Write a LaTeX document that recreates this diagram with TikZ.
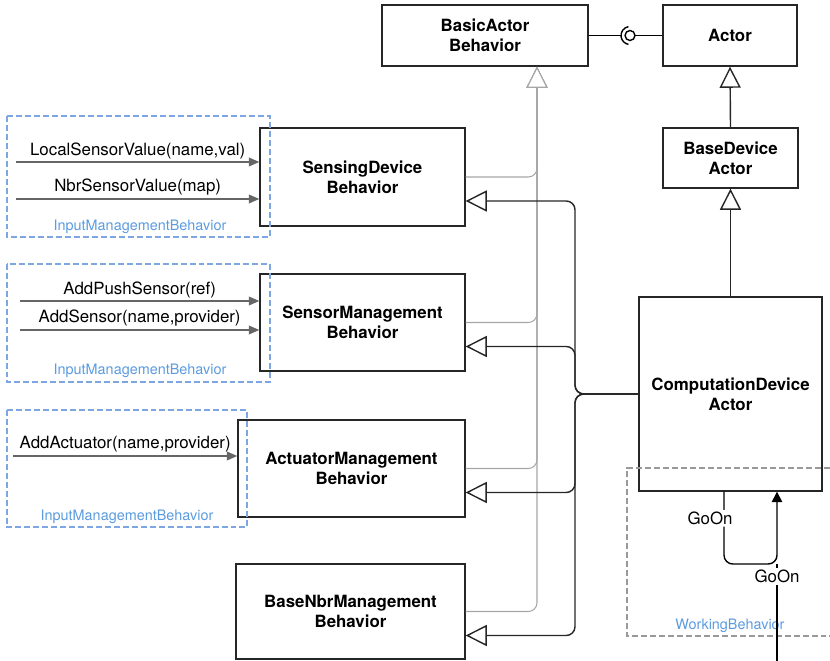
\documentclass[tikz,border=0pt]{standalone}
\usepackage{fontspec}
\setmainfont{TeX Gyre Heros}
\usetikzlibrary{positioning,arrows.meta}
\definecolor{grpblue}{HTML}{7EA6E0}
\definecolor{lblblue}{HTML}{5B9BDF}
\newcommand{\lblfont}{\fontsize{9.6}{11.4}\selectfont}

\begin{document}
\begin{tikzpicture}[x=0.02cm,y=-0.02cm,
    cls/.style={draw=black!85, line width=0.8pt, align=center, inner sep=0pt,
                font=\lblfont\bfseries},
    grp/.style={draw=grpblue, line width=0.6pt, dash pattern=on 3.4pt off 1.7pt},
    grplbl/.style={text=lblblue, font=\fontsize{8.2}{10}\selectfont},
    msg/.style={draw=black!60, line width=0.8pt,
                -{Triangle[length=6pt,width=5pt]}},
    inh/.style={draw=black!85, line width=0.8pt, rounded corners=5pt,
                -{Triangle[length=12pt,width=12pt,fill=white]}},
    inhgray/.style={inh, draw=black!35, line width=0.6pt}]

  \useasboundingbox (0,0) rectangle (830,661);

  \node [cls, minimum width=4.12cm, minimum height=1.22cm] (basicBeh)
        at (485,35.5) {BasicActor\\Behavior};
  \node [cls, minimum width=2.68cm, minimum height=1.22cm] (actor)
        at (730,35.5) {Actor};
  \node [cls, minimum width=2.7cm, minimum height=1.2cm] (baseDev)
        at (730.5,158) {BaseDevice\\Actor};
  \node [cls, minimum width=3.66cm, minimum height=3.88cm] (compDev)
        at (730.5,394) {ComputationDevice\\Actor};

  \node [cls, minimum width=4.1cm, minimum height=1.96cm] (sensingBeh)
        at (362.5,177) {SensingDevice\\Behavior};
  \node [cls, minimum width=4.1cm, minimum height=1.94cm] (sensorBeh)
        at (362.5,322.5) {SensorManagement\\Behavior};
  \node [cls, minimum width=4.54cm, minimum height=1.94cm] (actuatorBeh)
        at (351.5,468.5) {ActuatorManagement\\Behavior};
  \node [cls, minimum width=4.58cm, minimum height=1.9cm] (nbrBeh)
        at (350.5,611.5) {BaseNbrManagement\\Behavior};

  % input groups
  \draw [grp] (7,116) rectangle (270,237);
  \draw [grp] (7,264) rectangle (270,382);
  \draw [grp] (7,410) rectangle (247,527);
  \node [grplbl] (inLbl1) at (140,227) {InputManagementBehavior};
  \node [grplbl] (inLbl2) at (140,371) {InputManagementBehavior};
  \node [grplbl] (inLbl3) at (127,517) {InputManagementBehavior};

  \coordinate (lsv) at (16,162);
  \coordinate (nsv) at (16,199);
  \coordinate (aps) at (20,301);
  \coordinate (as) at (20,330);
  \coordinate (aa) at (13,456);

  \draw [msg] (lsv) -- (lsv -| sensingBeh.west)
        node [midway, above, inner sep=1.5pt, font=\lblfont] {LocalSensorValue(name,val)};
  \draw [msg] (nsv) -- (nsv -| sensingBeh.west)
        node [midway, above, inner sep=1.5pt, font=\lblfont] {NbrSensorValue(map)};
  \draw [msg] (aps) -- (aps -| sensorBeh.west)
        node [midway, above, inner sep=1.5pt, font=\lblfont] {AddPushSensor(ref)};
  \draw [msg] (as) -- (as -| sensorBeh.west)
        node [midway, above, inner sep=1.5pt, font=\lblfont] {AddSensor(name,provider)};
  \draw [msg] (aa) -- (aa -| actuatorBeh.west)
        node [midway, above, inner sep=1.5pt, font=\lblfont] {AddActuator(name,provider)};

  % behaviors extend BasicActorBehavior
  \coordinate (gx) at (537,0);
  \draw [inhgray] (sensingBeh.east) -| (basicBeh.south -| gx);
  \draw [inhgray] (sensorBeh.east) -| (basicBeh.south -| gx);
  \draw [inhgray] (actuatorBeh.east) -| (basicBeh.south -| gx);
  \draw [inhgray] (nbrBeh.east) -| (basicBeh.south -| gx);

  % ComputationDeviceActor mixes in the behaviors
  \coordinate (bx) at (575,0);
  \draw [inh] (compDev.west) -- (compDev.west -| bx) |- ([yshift=-0.48cm]sensingBeh.east);
  \draw [inh] (compDev.west) -- (compDev.west -| bx) |- ([yshift=-0.48cm]sensorBeh.east);
  \draw [inh] (compDev.west) -- (compDev.west -| bx) |- ([yshift=-0.48cm]actuatorBeh.east);
  \draw [inh] (compDev.west) -- (compDev.west -| bx) |- ([yshift=-0.48cm]nbrBeh.east);

  \draw [inh] (baseDev.north) -- (actor.south);
  \draw [inh] (compDev.north) -- (baseDev.south);

  % interface between BasicActorBehavior and Actor
  \coordinate (iface) at (630,35.5);
  \draw [line width=0.8pt] (basicBeh.east) -- ([xshift=-0.18cm]iface);
  \draw [line width=0.8pt] ([xshift=0.1cm]iface) -- (actor.west);
  \draw [line width=0.8pt] (iface) circle [radius=0.1cm];
  \draw [line width=0.8pt] ([shift={(100:0.18cm)}]iface)
        arc [start angle=100, end angle=260, radius=0.18cm];

  % working behavior
  \draw [draw=black!40, line width=0.6pt, dash pattern=on 3.4pt off 1.7pt]
        (830,468) -- (627,468) -- (627,636) -- (830,636);
  \node [grplbl] (workLbl) at (730,626) {WorkingBehavior};

  \coordinate (goL) at (724,564);
  \coordinate (goR) at (777,564);
  \coordinate (goIn) at (777,661);
  \draw [line width=0.8pt, rounded corners=5pt, -{Triangle[length=6pt,width=6pt]}]
        (compDev.south -| goL)
        -- node [pos=0.37, xshift=-0.28cm, fill=white, inner sep=1pt, font=\lblfont] {GoOn} (goL)
        -- (goR) -- (compDev.south -| goR);
  \draw [line width=0.8pt] (goIn) -- (goR)
        node [pos=0.87, fill=white, inner sep=1pt, font=\lblfont] {GoOn};

\end{tikzpicture}
\end{document}
